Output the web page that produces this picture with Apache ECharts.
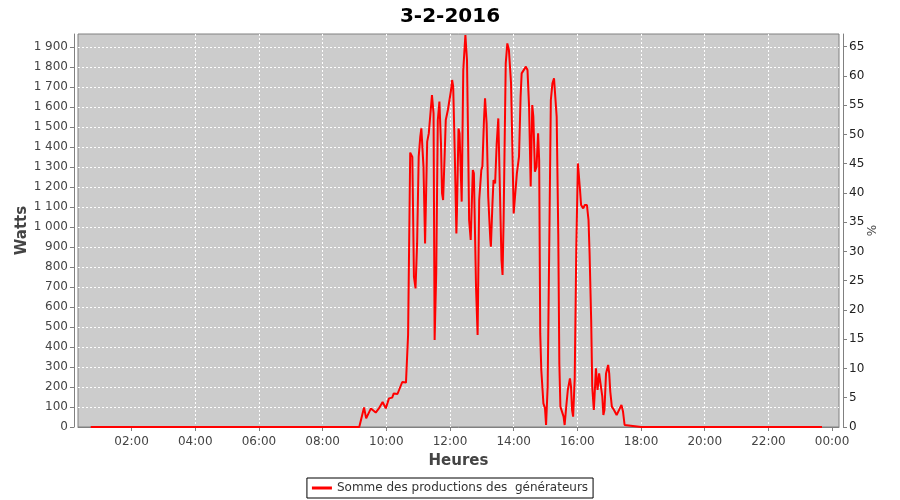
<!DOCTYPE html>
<html><head><meta charset="utf-8">
<script src="https://cdn.jsdelivr.net/npm/echarts@6/dist/echarts.min.js"></script>
<style>html,body{margin:0;padding:0;background:#fff}#c{width:900px;height:500px}</style>
</head><body><div id="c"></div>
<script>
const chartTitle = '3-2-2016';
const seriesName = 'Somme des productions des  générateurs';
const leftAxisName = 'Watts';
const rightAxisName = '%';
const xAxisName = 'Heures';

const times = [
 '00:43','01:00','01:30','02:00','02:30','03:00','03:30','04:00','04:30','05:00','05:30','06:00','06:30','07:00','07:30','08:00','08:30','09:00','09:09',
 '09:18','09:22','09:25','09:31','09:34','09:40','09:46','09:53','09:59','10:05','10:11','10:14','10:21','10:24','10:30','10:37','10:40',
 '10:41','10:45','10:49','10:52','10:55','10:58','11:01','11:04','11:06','11:10','11:13','11:16','11:17','11:20','11:23','11:26','11:29',
 '11:31','11:34','11:37','11:40','11:43','11:45','11:47','11:50','11:52','11:56','11:59','12:02','12:04','12:06','12:09','12:12','12:13',
 '12:16','12:18','12:22','12:25','12:28','12:29','12:32','12:34','12:36','12:39','12:43','12:45','12:49','12:52','12:55','12:59','13:01',
 '13:04','13:06','13:09','13:12','13:16','13:17','13:20','13:22','13:25','13:28','13:31','13:33','13:37','13:39','13:41','13:45','13:48',
 '13:51','13:55','13:58','14:00','14:02','14:06','14:10','14:13','14:15','14:18','14:23','14:26','14:29','14:32','14:35','14:37','14:40',
 '14:43','14:46','14:48','14:50','14:52','14:56','14:59','15:01','15:04','15:07','15:10','15:13','15:16','15:19','15:21','15:24','15:26',
 '15:28','15:31','15:34','15:36','15:39','15:42','15:46','15:48','15:50','15:52','15:55','15:58','16:01','16:03','16:05','16:07','16:11',
 '16:14','16:18','16:21','16:23','16:26','16:28','16:31','16:32','16:35','16:37','16:38','16:41','16:44','16:47','16:49','16:51','16:54',
 '16:58','17:00','17:02','17:05','17:09','17:12','17:14','17:17','17:20','17:23','17:26','17:29','17:32',
 '18:00','18:30','19:00','19:30','20:00','20:30','21:00','21:30','22:00','22:30','23:00','23:30','23:41'
];
const watts = [
 0,0,0,0,0,0,0,0,0,0,0,0,0,0,0,0,0,0,0,
 98,43,48,93,100,72,93,125,93,143,147,168,165,185,225,222,225,
 460,1372,1350,752,693,918,1352,1452,1493,1302,918,1300,1427,1468,1460,1660,1568,
 435,768,1535,1627,1418,1168,1135,1368,1535,1585,1593,1685,1735,1702,1368,968,1068,
 1493,1468,1127,1785,1918,1960,1835,1452,1035,935,1285,1268,702,460,1135,1285,1302,
 1535,1643,1518,1152,935,902,1118,1235,1218,1418,1543,1535,835,760,1035,1818,1918,
 1885,1718,1335,1068,1135,1268,1352,1652,1768,1777,1802,1785,1602,1202,1610,1552,1277,
 1302,1468,1335,468,285,118,93,10,202,902,1635,1718,1743,1752,1552,968,318,
 102,77,52,10,102,185,243,202,85,52,243,902,1318,1318,1185,1110,1093,
 1110,1110,1035,868,535,202,85,135,293,293,185,268,268,152,60,85,268,
 310,268,177,102,85,93,60,68,93,110,77,10,0,
 0,0,0,0,0,0,0,0,0,0,0,0,0
];
const xTickMinutes = [120,240,360,480,600,720,840,960,1080,1200,1320,1440];

function toMin(s){ const p=s.split(':'); return (+p[0])*60+(+p[1]); }
const data = times.map((t,i)=>[toMin(t), watts[i]]);
const pad = n => (n<10?'0':'')+n;
const FONT = 'DejaVu Sans';

const chart = echarts.init(document.getElementById('c'));
chart.setOption({
  animation:false,
  backgroundColor:'#ffffff',
  title:{text:chartTitle,left:'center',top:2,textStyle:{fontFamily:FONT,fontSize:20,fontWeight:'bold',color:'#000'}},
  grid:{left:78,top:34,right:61,bottom:73,show:true,backgroundColor:'#cccccc',borderColor:'#808080',borderWidth:1},
  legend:{bottom:2,left:'center',data:[seriesName],borderColor:'#000',borderWidth:1,borderRadius:0,padding:[4,5],
    icon:'rect',itemWidth:20,itemHeight:3,itemGap:4,textStyle:{fontFamily:FONT,fontSize:12,color:'#333'}},
  xAxis:{type:'value',min:19,max:1453,offset:4,
    name:xAxisName,nameLocation:'middle',nameGap:23,nameMoveOverlap:false,nameTextStyle:{fontFamily:FONT,fontSize:15,fontWeight:'bold',color:'#444'},
    axisLine:{show:true,lineStyle:{color:'#808080'}},
    axisTick:{show:true,length:4,customValues:xTickMinutes,lineStyle:{color:'#808080'}},
    axisLabel:{customValues:xTickMinutes,fontFamily:FONT,fontSize:12,color:'#444',margin:5,
      formatter:v=>pad(Math.floor(v/60)%24)+':'+pad(v%60)},
    splitLine:{show:true,showMinLine:false,showMaxLine:false,lineStyle:{color:'#ffffff',type:[2,2],width:1}}
  },
  yAxis:[
    {type:'value',min:0,max:1965,interval:100,offset:4,position:'left',
     name:leftAxisName,nameLocation:'middle',nameGap:44,nameMoveOverlap:false,nameTextStyle:{fontFamily:FONT,fontSize:15,fontWeight:'bold',color:'#444'},
     axisLine:{show:true,lineStyle:{color:'#808080'}},
     axisTick:{show:true,length:4,lineStyle:{color:'#808080'}},
     axisLabel:{showMaxLabel:false,fontFamily:FONT,fontSize:12,color:'#444',margin:6,
       formatter:v=> v>=1000 ? Math.floor(v/1000)+' '+String(v%1000).padStart(3,'0') : String(v)},
     splitLine:{show:true,showMinLine:false,showMaxLine:false,lineStyle:{color:'#ffffff',type:[2,2],width:1}}
    },
    {type:'value',min:0,max:67.17,interval:5,offset:4,position:'right',
     name:rightAxisName,nameLocation:'middle',nameGap:24,nameRotate:90,nameMoveOverlap:false,nameTextStyle:{fontFamily:FONT,fontSize:12,color:'#444'},
     axisLine:{show:true,lineStyle:{color:'#808080'}},
     axisTick:{show:true,length:4,lineStyle:{color:'#808080'}},
     axisLabel:{showMaxLabel:false,fontFamily:FONT,fontSize:12,color:'#222',margin:6},
     splitLine:{show:false}
    }
  ],
  series:[{name:seriesName,type:'line',yAxisIndex:0,data:data,showSymbol:false,
    lineStyle:{color:'#ff0000',width:2},itemStyle:{color:'#ff0000'}}]
});
</script></body></html>
